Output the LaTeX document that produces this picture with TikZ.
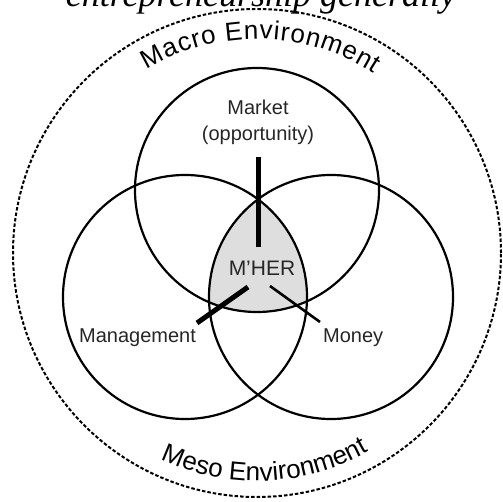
\documentclass[tikz,border=0pt]{standalone}
\usepackage{fontspec}
\setmainfont{Liberation Serif}
\setsansfont{Liberation Sans}
\usetikzlibrary{decorations.text}
\newcommand{\envfont}{\sffamily\fontsize{26}{26}\selectfont}
\begin{document}
\begin{tikzpicture}[x=1pt,y=1pt,
  ring/.style={draw=black, line width=2.2pt},
  envring/.style={draw=black, dash pattern=on 3.5pt off 2pt, line width=2pt},
  lbl/.style={font=\sffamily\fontsize{20}{22}\selectfont, text=black!85, inner sep=0pt},
  thickcon/.style={draw=black, line width=5pt},
  thincon/.style={draw=black, line width=2.6pt}]
\useasboundingbox (0,0) rectangle (503,501);
\clip (0,0) rectangle (503,501);

% title (cut off at top)
\node[font=\itshape\fontsize{36}{36}\selectfont, anchor=base, inner sep=0pt] (title) at (261,494) {entrepreneurship generally};

% outer environment ring
\draw[envring] (257,248) circle[radius=244pt];

% environment labels on arcs
\path[decorate, decoration={text along path, text align={fit to path},
   text={|\envfont|Macro Environment}}]
  (257,248) ++(121:214) arc[start angle=121, end angle=57, radius=214pt];
\path[decorate, decoration={text along path, text align={fit to path},
   text={|\envfont|Meso Environment}}]
  (257,248) ++(245:228) arc[start angle=245, end angle=299, radius=228pt];

% shaded intersection
\begin{scope}
  \clip (257,311) circle[radius=122pt];
  \clip (185,204) circle[radius=122pt];
  \fill[black!13] (331,204) circle[radius=122pt];
\end{scope}

% three circles
\draw[ring] (257,311) circle[radius=122pt];
\draw[ring] (185,204) circle[radius=122pt];
\draw[ring] (331,204) circle[radius=122pt];

% labels
\node[lbl, anchor=base] (market) at (258,386) {Market};
\node[lbl, anchor=base] (opp) at (258,360) {(opportunity)};
\node[lbl, font=\sffamily\fontsize{21}{22}\selectfont, anchor=base] (mher) at (262,225) {M\char"27\relax HER};
\node[lbl, anchor=base west] (mgmt) at (79,158) {Management};
\node[lbl, anchor=base west] (money) at (323,158) {Money};

% connectors
\coordinate (v1) at (258,344);
\coordinate (v2) at (258,254);
\coordinate (m1) at (248,214);
\coordinate (m2) at (197,178);
\coordinate (n1) at (270,215);
\coordinate (n2) at (320,179);
\draw[thickcon] (v1) -- (v2);
\draw[thickcon] (m1) -- (m2);
\draw[thincon] (n1) -- (n2);
\end{tikzpicture}
\end{document}
